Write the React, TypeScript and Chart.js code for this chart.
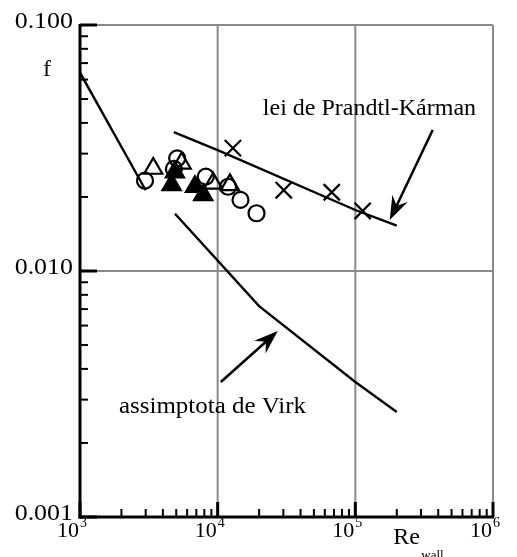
import React, { useEffect, useRef } from 'react';
import { Chart, registerables } from 'chart.js';

Chart.register(...registerables);

// ---- data ----
const laminarRe = [1000, 3000];
const laminarF = [0.064, 0.0213];

const prandtlRe = [4800, 10000, 100000, 200000];
const prandtlF = [0.0367, 0.031, 0.0177, 0.0153];

const virkRe = [4900, 20000, 100000, 200000];
const virkF = [0.0171, 0.0072, 0.00354, 0.00267];

const circleRe = [2965, 5080, 4810, 8200, 11900, 14650, 19150];
const circleF = [0.0233, 0.0287, 0.026, 0.0242, 0.022, 0.01945, 0.01717];

const openTriRe = [3405, 5470, 9270, 12270];
const openTriF = [0.0261, 0.0274, 0.0227, 0.0224];

const filledTriRe = [4627, 4890, 6840, 7850];
const filledTriF = [0.0224, 0.0252, 0.022, 0.0204];

const crossRe = [12900, 30200, 67400, 113000];
const crossF = [0.0316, 0.0213, 0.0209, 0.01754];

// axes
const xMin = 1e3;
const xMax = 1e6;
const yMin = 0.001;
const yMax = 0.1;
const xMajor = [1e3, 1e4, 1e5, 1e6];
const xExponents = ['3', '4', '5', '6'];
const yMajor = [0.001, 0.01, 0.1];
const yLabels = ['0.001', '0.010', '0.100'];
const minorMultipliers = [2, 3, 4, 5, 6, 7, 8, 9];
const gridX = [1e4, 1e5, 1e6];
const gridY = [0.01, 0.1];

// annotations (data space)
const prandtlLabel = { text: 'lei de Prandtl-Kárman', re: 21280, f: 0.043 };
const virkLabel = { text: 'assimptota de Virk', re: 1919, f: 0.00265 };
const prandtlArrow = { fromRe: 364600, fromF: 0.0374, toRe: 177800, toF: 0.0161 };
const virkArrow = { fromRe: 10540, fromF: 0.00354, toRe: 27350, toF: 0.0057 };

const W = 517;
const H = 557;
const FONT = '"Liberation Serif", "Times New Roman", serif';
const GRID = '#8a8a8a';

const toXY = (xs: number[], ys: number[]) => xs.map((v, i) => ({ x: v, y: ys[i] }));

function line(ctx: CanvasRenderingContext2D, x1: number, y1: number, x2: number, y2: number) {
  ctx.beginPath();
  ctx.moveTo(x1, y1);
  ctx.lineTo(x2, y2);
  ctx.stroke();
}

function text(
  ctx: CanvasRenderingContext2D,
  s: string,
  x: number,
  y: number,
  size: number,
  align: CanvasTextAlign,
  sx = 1
) {
  ctx.save();
  ctx.font = `${size}px ${FONT}`;
  ctx.textAlign = align;
  ctx.textBaseline = 'alphabetic';
  ctx.translate(x, y);
  ctx.scale(sx, 1);
  ctx.fillText(s, 0, 0);
  ctx.restore();
}

function arrow(ctx: CanvasRenderingContext2D, x1: number, y1: number, x2: number, y2: number) {
  const dx = x2 - x1;
  const dy = y2 - y1;
  const len = Math.hypot(dx, dy);
  const ux = dx / len;
  const uy = dy / len;
  const nx = -uy;
  const ny = ux;
  const L = 24;
  const Wd = 8.5;
  const notch = 8;
  ctx.lineWidth = 2.5;
  ctx.strokeStyle = '#000';
  line(ctx, x1, y1, x2 - (L - notch) * ux, y2 - (L - notch) * uy);
  ctx.fillStyle = '#000';
  ctx.beginPath();
  ctx.moveTo(x2, y2);
  ctx.lineTo(x2 - L * ux + Wd * nx, y2 - L * uy + Wd * ny);
  ctx.lineTo(x2 - (L - notch) * ux, y2 - (L - notch) * uy);
  ctx.lineTo(x2 - L * ux - Wd * nx, y2 - L * uy - Wd * ny);
  ctx.closePath();
  ctx.fill();
}

const axesPlugin = {
  id: 'customAxes',
  beforeDatasetsDraw(chart: any) {
    const { ctx, chartArea: a, scales } = chart;
    const xs = scales.x;
    const ys = scales.y;
    ctx.save();
    ctx.lineCap = 'butt';
    // gray grid
    ctx.strokeStyle = GRID;
    ctx.lineWidth = 2;
    for (const v of gridX) {
      const px = xs.getPixelForValue(v);
      line(ctx, px, a.top, px, a.bottom);
    }
    for (const v of gridY) {
      const py = ys.getPixelForValue(v);
      line(ctx, a.left, py, a.right, py);
    }
    // black axes
    ctx.strokeStyle = '#000';
    ctx.lineWidth = 3;
    line(ctx, a.left, a.top - 1, a.left, a.bottom + 1.5);
    line(ctx, a.left - 1.5, a.bottom, a.right + 1, a.bottom);
    // major ticks
    for (const v of yMajor) {
      const py = ys.getPixelForValue(v);
      line(ctx, a.left, py, a.left + 17, py);
    }
    for (const v of xMajor) {
      const px = xs.getPixelForValue(v);
      line(ctx, px, a.bottom, px, a.bottom - 15);
    }
    // minor ticks
    ctx.lineWidth = 2;
    for (let i = 0; i < yMajor.length - 1; i++) {
      for (const m of minorMultipliers) {
        const py = ys.getPixelForValue(yMajor[i] * m);
        line(ctx, a.left, py, a.left + 8, py);
      }
    }
    for (let i = 0; i < xMajor.length - 1; i++) {
      for (const m of minorMultipliers) {
        const px = xs.getPixelForValue(xMajor[i] * m);
        line(ctx, px, a.bottom, px, a.bottom - 8);
      }
    }
    ctx.restore();
  },
  afterDraw(chart: any) {
    const { ctx, chartArea: a, scales } = chart;
    const xs = scales.x;
    const ys = scales.y;
    ctx.save();
    ctx.fillStyle = '#000';
    // y tick labels
    yMajor.forEach((v, i) => {
      const py = ys.getPixelForValue(v);
      text(ctx, yLabels[i], a.left - 7, py + 3, 24, 'right', 1.08);
    });
    // x tick labels: 10^n
    xMajor.forEach((v, i) => {
      const px = xs.getPixelForValue(v);
      text(ctx, '10', px - 1, a.bottom + 20, 22, 'right');
      text(ctx, xExponents[i], px, a.bottom + 10, 14, 'left');
    });
    // axis titles
    text(ctx, 'f', 43, ys.getPixelForValue(yMax) + 51, 24, 'left');
    text(ctx, 'Re', xs.getPixelForValue(1e5) + 38, a.bottom + 27, 24, 'left');
    text(ctx, 'wall', xs.getPixelForValue(1e5) + 66, a.bottom + 42, 13, 'left');
    // annotation labels
    text(ctx, prandtlLabel.text, xs.getPixelForValue(prandtlLabel.re), ys.getPixelForValue(prandtlLabel.f), 24, 'left');
    text(ctx, virkLabel.text, xs.getPixelForValue(virkLabel.re), ys.getPixelForValue(virkLabel.f), 24, 'left', 1.04);
    // arrows
    for (const ar of [prandtlArrow, virkArrow]) {
      arrow(
        ctx,
        xs.getPixelForValue(ar.fromRe),
        ys.getPixelForValue(ar.fromF),
        xs.getPixelForValue(ar.toRe),
        ys.getPixelForValue(ar.toF)
      );
    }
    ctx.restore();
  },
};

export default function App() {
  const ref = useRef<HTMLCanvasElement>(null);
  useEffect(() => {
    const canvas = ref.current;
    if (!canvas) return;
    const lineDs = (label: string, xsv: number[], ysv: number[]) => ({
      label,
      data: toXY(xsv, ysv),
      showLine: true,
      borderColor: '#000',
      borderWidth: 2.4,
      pointRadius: 0,
      fill: false,
      tension: 0,
    });
    const markerDs = (label: string, xsv: number[], ysv: number[], style: string, radius: number, filled: boolean) => ({
      label,
      data: toXY(xsv, ysv),
      showLine: false,
      pointStyle: style,
      pointRadius: radius,
      pointBorderWidth: 2.2,
      pointBorderColor: '#000',
      pointBackgroundColor: filled ? '#000' : 'rgba(0,0,0,0)',
      borderColor: '#000',
      backgroundColor: filled ? '#000' : 'rgba(0,0,0,0)',
    });
    const chart = new Chart(canvas, {
      type: 'scatter',
      data: {
        datasets: [
          lineDs('laminar', laminarRe, laminarF),
          lineDs('Prandtl-Kárman', prandtlRe, prandtlF),
          lineDs('Virk', virkRe, virkF),
          markerDs('filled triangles', filledTriRe, filledTriF, 'triangle', 10.5, true),
          markerDs('open triangles', openTriRe, openTriF, 'triangle', 10.5, false),
          markerDs('circles', circleRe, circleF, 'circle', 8, false),
          markerDs('crosses', crossRe, crossF, 'crossRot', 11.5, false),
        ] as any,
      },
      options: {
        responsive: false,
        animation: false,
        devicePixelRatio: 1,
        layout: { padding: { left: 80, top: 25, right: W - 493, bottom: H - 517 } },
        plugins: { legend: { display: false }, tooltip: { enabled: false } },
        scales: {
          x: { type: 'logarithmic', min: xMin, max: xMax, display: false },
          y: { type: 'logarithmic', min: yMin, max: yMax, display: false },
        },
      } as any,
      plugins: [axesPlugin],
    });
    return () => chart.destroy();
  }, []);
  return (
    <div style={{ position: 'fixed', left: 0, top: 0, width: W, height: H, background: '#fff' }}>
      <canvas ref={ref} width={W} height={H} style={{ width: W, height: H, display: 'block' }} />
    </div>
  );
}
